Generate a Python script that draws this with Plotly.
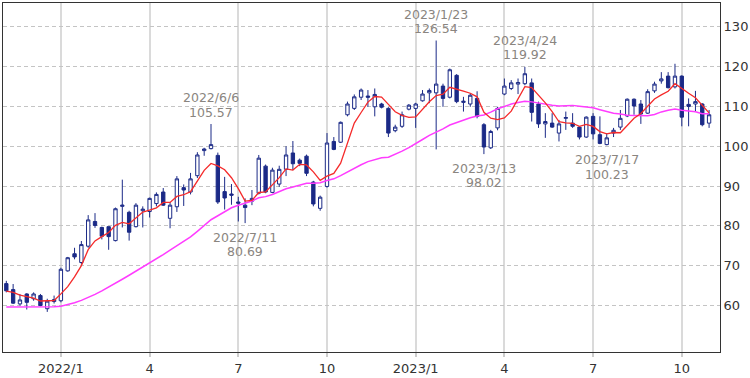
import plotly.graph_objects as go
import pandas as pd

# ---- data (weekly candles) ----
week_start = "2021-11-08"
opens = [65.5, 64.0, 60.4, 62.9, 61.7, 62.5, 59.2, 61.0, 61.2, 68.7,
         73.0, 70.8, 74.9, 81.1, 79.6, 79.8, 76.3, 84.9, 83.4, 79.8,
         83.8, 83.6, 85.6, 88.5, 81.9, 84.8, 89.6, 88.5, 92.6, 98.9,
         99.4, 97.7, 88.6, 88.0, 86.0, 85.2, 86.2, 88.2, 95.0, 88.4,
         90.5, 94.2, 98.3, 96.5, 97.5, 91.0, 84.4, 89.9, 101.2, 101.0,
         107.9, 109.5, 112.3, 112.6, 109.9, 110.6, 109.5, 103.9, 105.0, 109.3,
         109.5, 111.4, 113.4, 113.4, 115.1, 112.3, 117.8, 111.0, 110.6, 112.0,
         105.4, 99.6, 104.6, 113.1, 114.5, 115.6, 115.7, 115.9, 110.6, 105.6,
         105.8, 103.3, 107.0, 105.8, 104.8, 102.3, 107.5, 102.9, 100.4, 103.3,
         104.8, 107.6, 111.8, 110.6, 108.3, 113.9, 116.4, 117.6, 114.9, 117.6,
         110.5, 110.6, 110.6, 105.8]
highs = [66.2, 65.4, 62.9, 63.1, 63.3, 62.9, 61.7, 62.5, 69.5, 72.2,
         74.5, 76.2, 82.7, 83.2, 79.8, 79.8, 84.6, 91.6, 83.8, 85.7,
         84.9, 87.1, 88.4, 89.5, 86.0, 92.5, 90.4, 93.3, 98.5, 99.6,
         105.57, 98.4, 92.3, 90.5, 87.3, 86.9, 89.0, 97.8, 95.4, 94.6,
         95.1, 100.0, 101.3, 96.9, 97.9, 91.3, 87.6, 103.3, 102.3, 106.2,
         111.2, 113.0, 114.5, 114.1, 114.5, 110.9, 109.8, 105.4, 108.7, 110.6,
         110.9, 114.1, 114.5, 126.54, 115.7, 119.5, 118.1, 112.4, 113.3, 113.8,
         105.8, 104.1, 109.9, 117.0, 116.6, 117.0, 119.92, 117.0, 111.2, 108.3,
         108.3, 106.6, 108.7, 108.3, 105.0, 107.5, 108.3, 107.5, 103.3, 104.6,
         109.1, 112.0, 112.0, 111.6, 114.3, 116.2, 118.6, 118.6, 120.7, 117.8,
         112.0, 113.9, 110.8, 109.1]
lows = [63.3, 60.4, 60.0, 59.0, 61.2, 59.8, 58.4, 60.5, 60.8, 68.5,
        71.6, 70.3, 74.5, 79.5, 76.6, 74.0, 76.1, 79.6, 76.3, 79.6,
        79.6, 82.1, 84.9, 85.0, 79.4, 83.5, 85.0, 87.9, 92.0, 97.6,
        99.2, 85.5, 84.1, 85.3, 81.1, 80.69, 85.2, 87.9, 88.2, 88.2,
        89.8, 92.5, 94.0, 95.0, 92.5, 84.9, 83.8, 89.6, 99.0, 100.8,
        107.5, 109.1, 111.6, 109.9, 107.5, 109.5, 102.3, 103.5, 104.6, 109.0,
        104.6, 111.2, 110.8, 99.2, 109.9, 112.0, 110.8, 108.7, 109.9, 107.0,
        98.02, 99.3, 104.0, 112.8, 114.1, 113.1, 115.3, 106.2, 104.6, 102.1,
        104.6, 101.2, 104.1, 104.6, 101.7, 102.1, 101.7, 100.5, 100.23, 102.3,
        104.1, 107.3, 107.9, 105.6, 108.1, 113.4, 115.7, 114.5, 114.5, 105.0,
        105.0, 108.7, 105.0, 104.6]
closes = [63.7, 60.6, 61.4, 60.8, 62.9, 60.0, 61.1, 61.5, 69.1, 72.0,
          72.2, 75.3, 81.5, 80.1, 77.4, 77.3, 84.3, 85.2, 78.4, 85.2,
          84.2, 86.9, 87.9, 85.2, 85.2, 91.8, 89.0, 91.8, 97.8, 99.3,
          100.4, 86.0, 87.0, 87.7, 85.7, 84.6, 86.9, 97.0, 88.5, 94.0,
          94.2, 97.8, 95.6, 95.7, 93.2, 85.5, 87.2, 100.8, 99.2, 106.0,
          110.6, 112.4, 114.1, 112.3, 113.0, 109.8, 103.3, 104.8, 107.9, 110.3,
          110.6, 113.1, 114.0, 115.6, 112.0, 119.2, 111.2, 111.3, 112.8, 107.5,
          99.8, 103.7, 109.5, 115.1, 115.9, 116.0, 118.2, 108.5, 105.6, 106.2,
          104.8, 105.6, 107.2, 105.0, 102.3, 107.3, 103.1, 100.7, 102.1, 104.0,
          107.0, 111.8, 110.1, 108.1, 113.7, 115.6, 116.9, 114.7, 117.6, 107.3,
          110.0, 111.2, 105.4, 107.9]

# moving-average values for weeks whose window starts before the visible data
ma5_head = [63.6, 63.3, 62.6, 62.2]
ma26_head = [59.6, 59.6, 59.6, 59.6, 59.6, 59.6, 59.6, 59.7, 59.8, 60.2,
             60.7, 61.3, 62.0, 62.8, 63.7, 64.6, 65.6, 66.6, 67.6, 68.6,
             69.6, 70.6, 71.7, 72.8, 73.9]

tick_dates = ["2022-01-03", "2022-04-04", "2022-07-04", "2022-10-03",
              "2023-01-02", "2023-04-03", "2023-07-03", "2023-10-02"]
tick_text = ["2022/1", "4", "7", "10", "2023/1", "4", "7", "10"]

ann_dates = ["2022-06-06", "2022-07-11", "2023-01-23", "2023-03-13", "2023-04-24", "2023-07-17"]
ann_kind = ["high", "low", "high", "low", "high", "low"]

# ---- derived ----
n = len(closes)
dates = pd.date_range(week_start, periods=n, freq="7D")
cs = pd.Series(closes)
ma5 = cs.rolling(5).mean().tolist()
ma26 = cs.rolling(26).mean().tolist()
ma5[:len(ma5_head)] = ma5_head
ma26[:len(ma26_head)] = ma26_head

navy = "#1b2a87"
fig = go.Figure()
fig.add_trace(go.Scatter(x=dates, y=ma26, mode="lines",
                         line=dict(color="#ff3cff", width=1.5), hoverinfo="skip"))
fig.add_trace(go.Candlestick(
    x=dates, open=opens, high=highs, low=lows, close=closes,
    increasing=dict(line=dict(color=navy, width=1), fillcolor="white"),
    decreasing=dict(line=dict(color=navy, width=1), fillcolor=navy),
    whiskerwidth=0))
fig.add_trace(go.Scatter(x=dates, y=ma5, mode="lines",
                         line=dict(color="#f52a2a", width=1.3), hoverinfo="skip"))

annotations = []
font_ann = dict(family="DejaVu Sans, Verdana, sans-serif", size=12.5, color="#8a8580")
for d, k in zip(ann_dates, ann_kind):
    ts = pd.Timestamp(d)
    idx = list(dates).index(ts)
    val = highs[idx] if k == "high" else lows[idx]
    dtxt = f"{ts.year}/{ts.month}/{ts.day}"
    vtxt = f"{val:.2f}"
    if k == "high":
        shifts = [(dtxt, 26.5), (vtxt, 12.0)]
    else:
        shifts = [(dtxt, -14.3), (vtxt, -28.8)]
    for t, s in shifts:
        annotations.append(dict(x=ts, y=val, text=t, showarrow=False,
                                xanchor="center", yanchor="middle", yshift=s,
                                borderpad=0, font=font_ann))

x0 = dates[0] - pd.Timedelta(days=3.4)
x1 = dates[-1] + pd.Timedelta(days=11.2)

tickfont = dict(family="DejaVu Sans, Verdana, sans-serif", size=13, color="#333333")
fig.update_layout(
    width=750, height=378,
    margin=dict(l=2, r=28, t=2, b=23),
    paper_bgcolor="white", plot_bgcolor="white",
    showlegend=False,
    annotations=annotations,
    xaxis=dict(type="date", range=[x0, x1], tickvals=list(pd.to_datetime(tick_dates)),
               ticktext=tick_text, showgrid=True, gridcolor="#dadada", gridwidth=1.5,
               showline=True, mirror=True, linecolor="#333333", linewidth=1,
               ticks="outside", ticklen=4, tickcolor="#cccccc", tickwidth=1.5,
               tickfont=tickfont, rangeslider=dict(visible=False), zeroline=False),
    yaxis=dict(side="right", range=[48.33, 135.96], tickvals=list(range(60, 131, 10)),
               showgrid=True, gridcolor="#c4c4c4", griddash="4px,3px", gridwidth=1,
               showline=True, mirror=True, linecolor="#333333", linewidth=1,
               ticks="", tickfont=tickfont, zeroline=False),
)

fig.write_html("out.html", config={"displayModeBar": False})

# remove the browser's default page margin so the figure starts at the corner
with open("out.html", "r", encoding="utf-8") as f:
    html = f.read()
html = html.replace("<head>", "<head><style>html,body{margin:0;padding:0;overflow:hidden;}</style>", 1)
with open("out.html", "w", encoding="utf-8") as f:
    f.write(html)
